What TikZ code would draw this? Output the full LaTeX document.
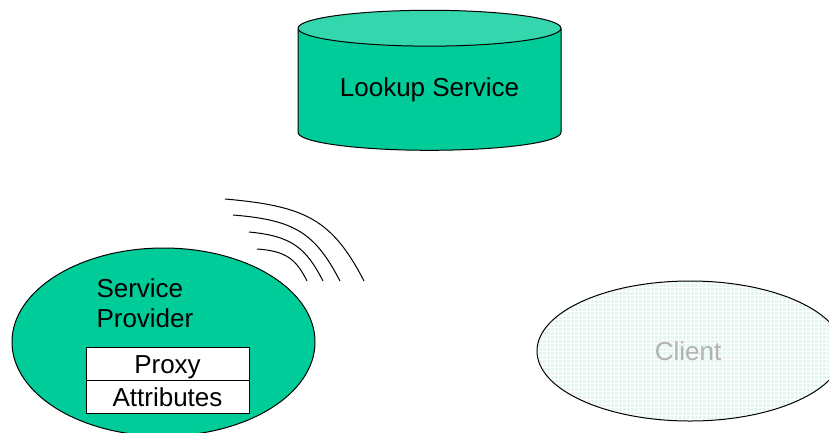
\documentclass[tikz,border=0pt]{standalone}
\usepackage{fontspec}
\setmainfont{Liberation Sans}
\usetikzlibrary{positioning, shapes.geometric}
\definecolor{sgreen}{HTML}{00CC99}
\definecolor{stop}{HTML}{33D6AD}
\definecolor{ctint}{HTML}{DDF8F1}

\begin{document}
\begin{tikzpicture}[x=1pt, y=-1pt, line width=1pt,
        every node/.style = {font=\fontsize{26}{30}\selectfont},
        store/.style = {draw, cylinder, shape border rotate=90, aspect=0.2, cylinder uses custom fill,
            cylinder body fill=sgreen, cylinder end fill=stop, minimum width=263pt, minimum height=140pt, inner sep=0pt},
        host/.style = {draw, ellipse, inner sep=0pt},
        cell/.style = {draw, fill=white, minimum width=163pt, minimum height=33pt, inner sep=0pt, outer sep=0pt, text height=19pt, text depth=0pt}
    ]
        \useasboundingbox (0, 0) rectangle (829, 432);

        \node at (429.5, 89.5) [store] (lookup) {\raisebox{-4pt}{Lookup Service}};

        \node at (163.5, 342) [host, fill=sgreen, minimum width=303pt, minimum height=188pt] (provider) {};
        \node at (96, 303) [anchor=west, align=left, inner sep=0pt] (providerlabel) {Service\\Provider};
        \node at (167.5, 363.5) [cell] (proxy) {Proxy};
        \node [cell, below=0pt of proxy] (attrs) {Attributes};

        \node at (690, 351) [host, fill=ctint, minimum width=306pt, minimum height=140pt,
            path picture={\draw [white, line width=1pt, step=4pt] (path picture bounding box.south west) grid (path picture bounding box.north east);}] (client) {};
        \node at (688, 351) [text=black!30, inner sep=0pt] (clientlabel) {Client};

        \coordinate (w1s) at (225, 199);
        \coordinate (w1e) at (364, 281);
        \coordinate (w2s) at (233, 215);
        \coordinate (w2e) at (340, 281);
        \coordinate (w3s) at (249, 232);
        \coordinate (w3e) at (323, 281);
        \coordinate (w4s) at (257, 249);
        \coordinate (w4e) at (307, 281);

        \draw (w1s) .. controls +(80, 7) and +(-32, -62) .. (w1e);
        \draw (w2s) .. controls +(62, 5) and +(-25, -48) .. (w2e);
        \draw (w3s) .. controls +(43, 4) and +(-17, -33) .. (w3e);
        \draw (w4s) .. controls +(29, 2) and +(-11, -22) .. (w4e);
    \end{tikzpicture}
\end{document}
